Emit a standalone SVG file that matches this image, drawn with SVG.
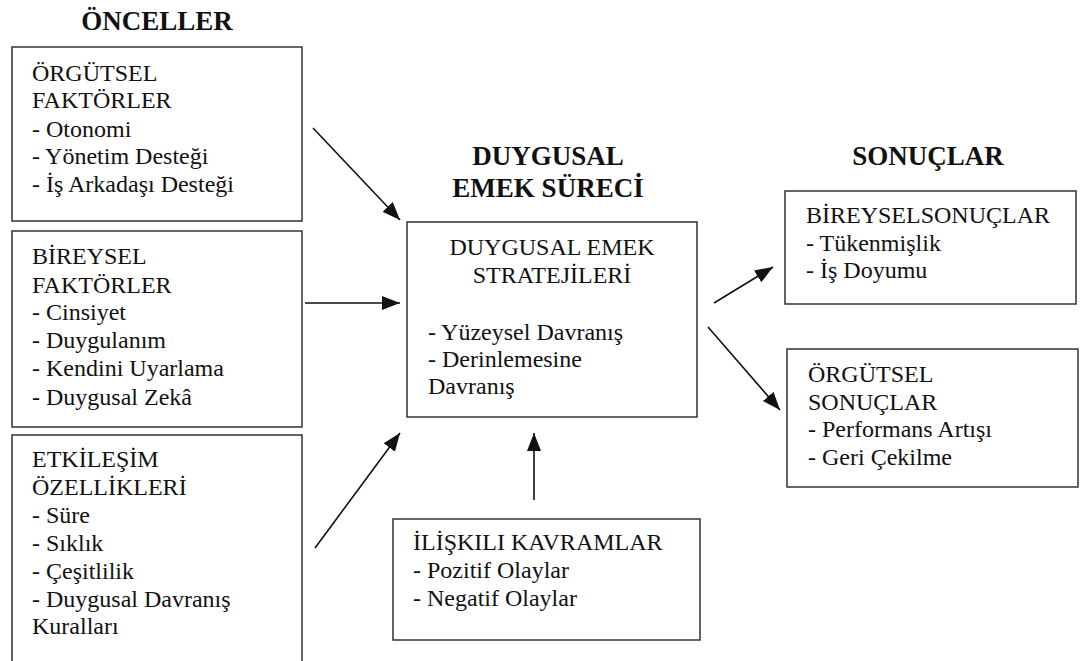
<svg xmlns="http://www.w3.org/2000/svg" width="1080" height="661" viewBox="0 0 1080 661" font-family="Liberation Serif, DejaVu Serif, serif">
<defs>
<style>
.box{fill:#fff;stroke:#333;stroke-width:1.5}
text{font-family:"Liberation Serif","DejaVu Serif",serif}
.t{font-size:24px;fill:#111}
.h{font-size:27px;font-weight:bold;fill:#111;text-anchor:middle}
.c{text-anchor:middle}
.ln{stroke:#111;stroke-width:1.6;fill:none;marker-end:url(#ah)}
</style>
<marker id="ah" markerUnits="userSpaceOnUse" markerWidth="20" markerHeight="16" refX="18" refY="7" orient="auto">
<path d="M0,0 L18,7 L0,14 z" fill="#111"/>
</marker>
</defs>
<rect width="1080" height="661" fill="#fff"/>

<g id="headings">
<text class="h" x="157" y="30" font-family="Liberation Serif">ÖNCELLER</text>
<text class="h" x="548" y="165">DUYGUSAL</text>
<text class="h" x="548" y="197">EMEK SÜRECİ</text>
<text class="h" x="928" y="165">SONUÇLAR</text>
</g>

<g id="orgutsel-faktorler">
<rect class="box" x="12" y="47" width="290" height="174"/>
<text class="t" x="32" y="81">ÖRGÜTSEL</text>
<text class="t" x="32" y="108">FAKTÖRLER</text>
<text class="t" x="32" y="137">- Otonomi</text>
<text class="t" x="32" y="164">- Yönetim Desteği</text>
<text class="t" x="32" y="192">- İş Arkadaşı Desteği</text>
</g>

<g id="bireysel-faktorler">
<rect class="box" x="12" y="231" width="290" height="196"/>
<text class="t" x="32" y="264">BİREYSEL</text>
<text class="t" x="32" y="293">FAKTÖRLER</text>
<text class="t" x="32" y="320">- Cinsiyet</text>
<text class="t" x="32" y="348">- Duygulanım</text>
<text class="t" x="32" y="376">- Kendini Uyarlama</text>
<text class="t" x="32" y="405">- Duygusal Zekâ</text>
</g>

<g id="etkilesim-ozellikleri">
<rect class="box" x="12" y="435" width="290" height="230"/>
<text class="t" x="32" y="467">ETKİLEŞİM</text>
<text class="t" x="32" y="495">ÖZELLİKLERİ</text>
<text class="t" x="32" y="523">- Süre</text>
<text class="t" x="32" y="551">- Sıklık</text>
<text class="t" x="32" y="579">- Çeşitlilik</text>
<text class="t" x="32" y="607">- Duygusal Davranış</text>
<text class="t" x="32" y="634">Kuralları</text>
</g>

<g id="duygusal-emek-stratejileri">
<rect class="box" x="407" y="222" width="290" height="195"/>
<text class="t c" x="552" y="255">DUYGUSAL EMEK</text>
<text class="t c" x="552" y="283">STRATEJİLERİ</text>
<text class="t" x="428" y="340">- Yüzeysel Davranış</text>
<text class="t" x="428" y="367">- Derinlemesine</text>
<text class="t" x="428" y="394">Davranış</text>
</g>

<g id="iliskili-kavramlar">
<rect class="box" x="393" y="519" width="307" height="121"/>
<text class="t" x="413" y="550">İLİŞKILI KAVRAMLAR</text>
<text class="t" x="413" y="578">- Pozitif Olaylar</text>
<text class="t" x="413" y="606">- Negatif Olaylar</text>
</g>

<g id="bireysel-sonuclar">
<rect class="box" x="785" y="191" width="291" height="113"/>
<text class="t" x="806" y="223">BİREYSELSONUÇLAR</text>
<text class="t" x="806" y="251">- Tükenmişlik</text>
<text class="t" x="806" y="278">- İş Doyumu</text>
</g>

<g id="orgutsel-sonuclar">
<rect class="box" x="787" y="349" width="291" height="138"/>
<text class="t" x="808" y="382">ÖRGÜTSEL</text>
<text class="t" x="808" y="410">SONUÇLAR</text>
<text class="t" x="808" y="437">- Performans Artışı</text>
<text class="t" x="808" y="465">- Geri Çekilme</text>
</g>

<g id="connectors">
<line class="ln" x1="313" y1="128" x2="400" y2="220"/>
<line class="ln" x1="305" y1="303" x2="400" y2="303"/>
<line class="ln" x1="315" y1="548" x2="400" y2="433"/>
<line class="ln" x1="534" y1="500" x2="534" y2="433"/>
<line class="ln" x1="714" y1="303" x2="773" y2="267"/>
<line class="ln" x1="708" y1="327" x2="780" y2="410"/>
</g>
</svg>
